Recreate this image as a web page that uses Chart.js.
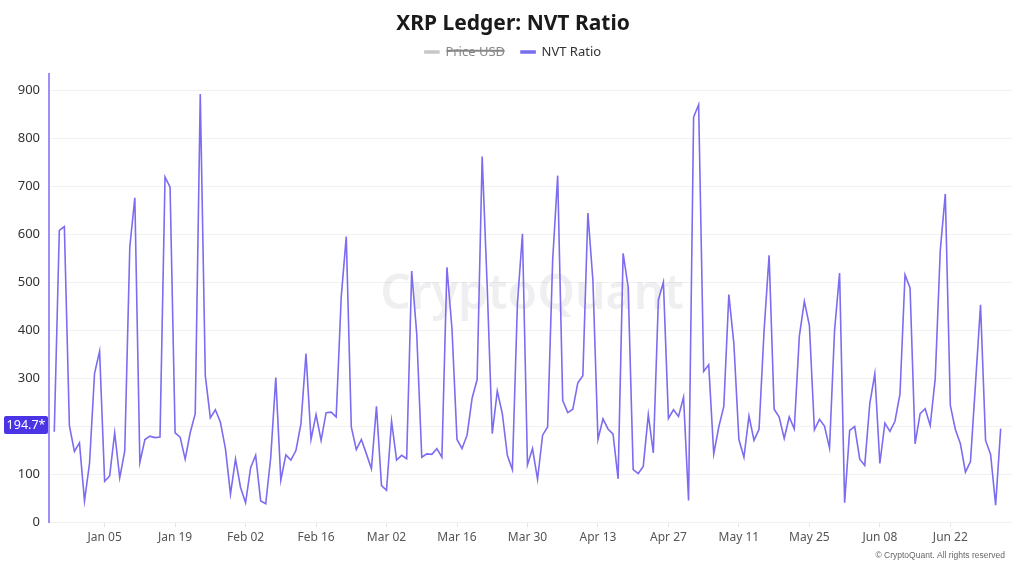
<!DOCTYPE html>
<html><head><meta charset="utf-8">
<script src="https://cdn.jsdelivr.net/npm/chart.js@4.4.1/dist/chart.umd.min.js"></script>
<style>html,body{margin:0;padding:0;background:#fff;}#wrap{width:1024px;height:565px;position:relative;}</style>
</head><body><div id="wrap"><canvas id="c" width="1024" height="565"></canvas></div>
<script>
// Daily series starting 2024-12-26
const startDate = [2024, 11, 26];
const nvtValues = [
 188,608,616,201,147,165,
 44,122,310,356,85,96,186,92,148,573,676,124,172,179,176,177,719,698,186,177,131,186,226,892,305,217,234,208,153,58,131,
 72,40,113,139,44,38,135,301,87,140,129,149,205,351,172,224,170,228,229,219,469,595,198,151,172,142,111,241,
 76,66,210,129,139,132,523,392,135,142,141,153,135,531,403,172,153,181,258,297,762,490,184,273,226,139,109,455,601,119,153,
 89,181,198,545,722,253,228,235,290,305,644,503,172,215,194,183,90,560,490,109,101,116,224,144,463,500,216,234,220,260,
 45,844,870,314,328,142,198,241,474,372,172,135,221,170,193,399,556,235,219,174,219,194,387,460,410,192,214,200,154,399,519,
 40,191,199,131,118,247,309,122,206,189,210,267,515,488,163,226,236,201,299,566,684,243,193,163,104,126,288,453,170,141,
 35,194.7
];
const priceValues = [];
const tickLabels = ['Jan 05','Jan 19','Feb 02','Feb 16','Mar 02','Mar 16','Mar 30','Apr 13','Apr 27','May 11','May 25','Jun 08','Jun 22'];
const yTicks = [0,100,200,300,400,500,600,700,800,900];
const lastValueLabel = '194.7*';

const monthNames = ['Jan','Feb','Mar','Apr','May','Jun','Jul','Aug','Sep','Oct','Nov','Dec'];
const dateLabels = nvtValues.map((_, i) => {
  const d = new Date(Date.UTC(startDate[0], startDate[1], startDate[2] + i));
  return monthNames[d.getUTCMonth()] + ' ' + String(d.getUTCDate()).padStart(2, '0');
});
const tickIdx = tickLabels.map(l => dateLabels.indexOf(l));

const LINE = '#7b6cf0';
const FONT = "'Noto Sans', 'Open Sans', sans-serif";

const extras = {
  id: 'extras',
  afterLayout(chart) {
    if (chart.legend) { chart.legend.top -= 5; chart.legend.bottom -= 5; }
  },
  beforeDatasetsDraw(chart) {
    const {ctx} = chart;
    ctx.save();
    ctx.font = "600 48px " + FONT;
    ctx.fillStyle = 'rgba(110,100,130,0.11)';
    ctx.textAlign = 'center';
    ctx.textBaseline = 'middle';
    ctx.fillText('CryptoQuant', 532, 295);
    ctx.restore();
  },
  afterDraw(chart) {
    const {ctx} = chart;
    const y = chart.scales.y.getPixelForValue(nvtValues[nvtValues.length - 1]);
    ctx.save();
    ctx.fillStyle = '#4a34e6';
    ctx.beginPath();
    ctx.roundRect(4, y - 12.5, 44, 18, 2);
    ctx.fill();
    ctx.fillStyle = '#ffffff';
    ctx.font = "12.5px " + FONT;
    ctx.textAlign = 'center';
    ctx.textBaseline = 'middle';
    ctx.fillText(lastValueLabel, 26, y - 3.5);
    ctx.fillStyle = '#666';
    ctx.font = "8.5px 'Liberation Sans', Arial, sans-serif";
    ctx.textAlign = 'right';
    ctx.fillText('\u00A9 CryptoQuant. All rights reserved', 1005, 556);
    ctx.restore();
  }
};

new Chart(document.getElementById('c'), {
  type: 'line',
  data: {
    datasets: [
      { label: 'Price USD', data: priceValues, hidden: true, borderColor: '#bdbdbd', backgroundColor: '#bdbdbd', borderWidth: 1.5, pointRadius: 0 },
      { label: 'NVT Ratio', data: nvtValues.map((v, i) => ({x: i, y: v})), borderColor: LINE, backgroundColor: LINE, borderWidth: 1.6, pointRadius: 0, tension: 0 }
    ]
  },
  options: {
    responsive: false,
    animation: false,
    layout: { padding: { left: 14, right: 12, top: 6, bottom: 18 } },
    plugins: {
      title: { display: true, text: 'XRP Ledger: NVT Ratio', color: '#1a1a1a', font: { family: FONT, size: 21, weight: 'bold', lineHeight: 1 }, padding: { top: 7.5, bottom: 0 } },
      legend: {
        display: true,
        labels: {
          boxWidth: 14, boxHeight: 2, padding: 16, color: '#333',
          font: { family: FONT, size: 13 },
          generateLabels(chart) {
            const items = Chart.defaults.plugins.legend.labels.generateLabels(chart);
            items.forEach(it => { if (it.hidden) { it.fontColor = '#888'; it.fillStyle = '#c8c8c8'; it.strokeStyle = '#c8c8c8'; } });
            return items;
          }
        }
      },
      tooltip: { enabled: false }
    },
    scales: {
      x: {
        type: 'linear', min: -1.05, max: 190.25,
        afterBuildTicks(s) { s.ticks = tickIdx.map(v => ({value: v})); },
        afterFit(s) { s.height = 25; },
        ticks: { autoSkip: false, maxRotation: 0, padding: 3, color: '#555', font: { family: FONT, size: 12 }, callback: v => dateLabels[v] },
        grid: { drawOnChartArea: false, drawTicks: true, tickLength: 5, color: '#e4e4e4' },
        border: { display: false }
      },
      y: {
        min: 0, max: 935,
        afterBuildTicks(s) { s.ticks = yTicks.map(v => ({value: v})); },
        afterFit(s) { s.width = 35; },
        ticks: { padding: 9, color: '#333', font: { family: FONT, size: 13 } },
        grid: { color: '#f1f1f1', drawTicks: false },
        border: { display: true, color: '#9c8ff5', width: 2 }
      }
    }
  },
  plugins: [extras]
});
</script></body></html>
